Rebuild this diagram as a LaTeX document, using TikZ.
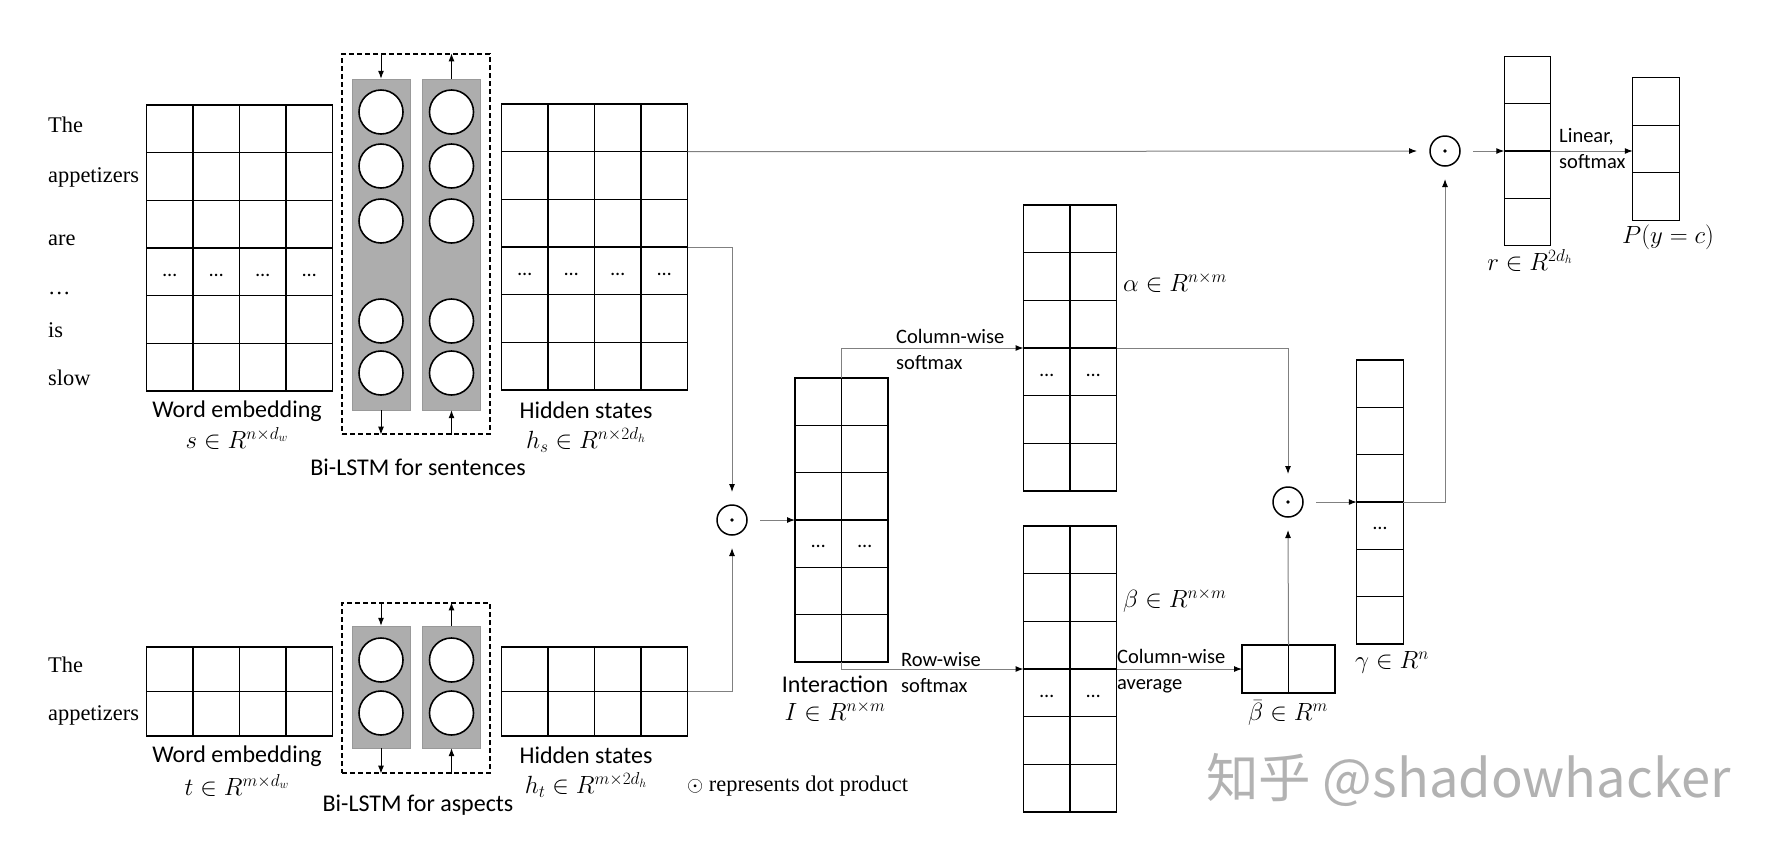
\documentclass[tikz,border=0pt]{standalone}
\usepackage{amsmath}
\usepackage{fontspec}
\setmainfont{Liberation Serif}
\newfontfamily\lblfont{Carlito}
\newfontfamily\wmfont{Noto Sans CJK SC}
\usepackage{tikz}
\usetikzlibrary{arrows.meta}

\tikzset{
  matbox/.style={draw, line width=1.3pt, inner sep=0pt, outer sep=0pt},
  matline/.style={line width=1.3pt},
  celldots/.style={font=\lblfont\fontsize{20}{20}\selectfont, inner sep=0pt},
  conn/.style={draw=black!50, line width=1pt, -{Latex[length=8pt,width=6pt,color=black]}},
  arr/.style={line width=1pt, -{Latex[length=8pt,width=6pt]}},
  odot/.style={circle, draw, line width=1.5pt, minimum size=30pt, inner sep=0pt, outer sep=13pt,
    path picture={\fill (path picture bounding box.center) circle (1.8pt);}},
  lstm/.style={draw=black!40, fill=black!32, inner sep=0pt, minimum width=58pt, minimum height=#1},
  lstmunit/.style={circle, draw, fill=white, line width=1.6pt, minimum size=44pt, inner sep=0pt},
  bilstm/.style={draw, dash pattern=on 5pt off 3pt, line width=1.2pt, minimum width=148pt, minimum height=#1, inner sep=0pt},
  lbl/.style={font=\lblfont\fontsize{24}{28}\selectfont, inner sep=0pt},
  note/.style={font=\lblfont\fontsize{20.5}{26}\selectfont, align=left, inner sep=0pt, anchor=west},
  word/.style={font=\fontsize{22.4}{26}\selectfont, anchor=west, inner sep=0pt},
}

% a box of cells: name, centre, columns, rows, row height
\newcommand{\cellgrid}[5]{%
  \node[matbox, minimum width=#3*46.5pt, minimum height=#4*#5pt] (#1) at #2 {};
  \foreach \i in {1,...,#3} \draw[matline] ([xshift=\i*46.5pt]#1.north west) -- ([xshift=\i*46.5pt]#1.south west);
  \foreach \j in {1,...,#4} \draw[matline] ([yshift=-\j*#5pt]#1.north west) -- ([yshift=-\j*#5pt]#1.north east);
}

\begin{document}
\begin{tikzpicture}[x=1pt, y=-1pt]
    \useasboundingbox (0,0) rectangle (1774,852);

    % Sentence words
    \node[word] (s1) at (48,125) {The};
    \node[word] (s2) at (48,177) {appetizers};
    \node[word] (s3) at (48,240) {are};
    \node[word] (s4) at (48,293) {\ldots};
    \node[word] (s5) at (48,330) {is};
    \node[word] (s6) at (48,378) {slow};

    % Word embedding (sentence)
    \cellgrid{we}{(239.5,248)}{4}{6}{47.67}
    \foreach \c in {1,...,4}
        \node[celldots] (we-d\c) at ([xshift=(\c-0.5)*46.5pt, yshift=-170pt]we.north west) {\ldots};
    \node[lbl] (we-l) at (237,411) {Word embedding};
    \node[lbl] (we-m) at (237,438) {$s\in R^{n\times d_w}$};

    % Bi-LSTM for sentences
    \node[bilstm=380pt] (bls) at (416,244) {};
    \node[lstm=331pt] (fws) at (381,244.5) {};
    \node[lstm=331pt] (bws) at (451.5,244.5) {};
    \foreach \y [count=\k] in {112,166,221,321,373} {
        \node[lstmunit] (fs\k) at (381,\y) {};
        \node[lstmunit] (bs\k) at (451.5,\y) {};
    }
    \draw[arr] (fws.north |- bls.north) -- (fws.north);
    \draw[arr] (bws.north) -- (bws.north |- bls.north);
    \draw[arr] (fws.south) -- (fws.south |- bls.south);
    \draw[arr] (bws.south |- bls.south) -- (bws.south);
    \node[lbl] (bls-l) at (418,467) {Bi-LSTM for sentences};

    % Hidden states (sentence)
    \cellgrid{hs}{(594.5,247)}{4}{6}{47.67}
    \foreach \c in {1,...,4}
        \node[celldots] (hs-d\c) at ([xshift=(\c-0.5)*46.5pt, yshift=-170pt]hs.north west) {\ldots};
    \node[lbl] (hs-l) at (586,410) {Hidden states};
    \node[lbl] (hs-m) at (586,440) {$h_s\in R^{n\times 2d_h}$};

    % Aspect words
    \node[word] (a1) at (48,665) {The};
    \node[word] (a2) at (48,715) {appetizers};

    % Word embedding (aspect)
    \cellgrid{wa}{(239.5,691.5)}{4}{2}{44.5}
    \node[lbl] (wa-l) at (237,756) {Word embedding};
    \node[lbl] (wa-m) at (237,785) {$t\in R^{m\times d_w}$};

    % Bi-LSTM for aspects
    \node[bilstm=170pt] (bla) at (416,688) {};
    \node[lstm=122pt] (fwa) at (381,687) {};
    \node[lstm=122pt] (bwa) at (451.5,687) {};
    \foreach \y [count=\k] in {660,713} {
        \node[lstmunit] (fa\k) at (381,\y) {};
        \node[lstmunit] (ba\k) at (451.5,\y) {};
    }
    \draw[arr] (fwa.north |- bla.north) -- (fwa.north);
    \draw[arr] (bwa.north) -- (bwa.north |- bla.north);
    \draw[arr] (fwa.south) -- (fwa.south |- bla.south);
    \draw[arr] (bwa.south |- bla.south) -- (bwa.south);
    \node[lbl] (bla-l) at (418,805) {Bi-LSTM for aspects};

    % Hidden states (aspect)
    \cellgrid{ha}{(594.5,691.5)}{4}{2}{44.5}
    \node[lbl] (ha-l) at (586,755) {Hidden states};
    \node[lbl] (ha-m) at (586,785) {$h_t\in R^{m\times 2d_h}$};

    % Dot products
    \node[odot] (dot1) at (1445,151) {};
    \node[odot] (dot2) at (732,520) {};
    \node[odot] (dot3) at (1288,502) {};

    % Interaction
    \cellgrid{inter}{(841.5,520)}{2}{6}{47.33}
    \foreach \c in {1,2}
        \node[celldots] (inter-d\c) at ([xshift=(\c-0.5)*46.5pt, yshift=-168pt]inter.north west) {\ldots};
    \node[lbl] (inter-l) at (835,684) {Interaction};
    \node[lbl] (inter-m) at (835,711) {$I\in R^{n\times m}$};

    % alpha and beta
    \cellgrid{alpha}{(1070,348)}{2}{6}{47.67}
    \cellgrid{beta}{(1070,669)}{2}{6}{47.67}
    \foreach \c in {1,2} {
        \node[celldots] (alpha-d\c) at ([xshift=(\c-0.5)*46.5pt, yshift=-170pt]alpha.north west) {\ldots};
        \node[celldots] (beta-d\c) at ([xshift=(\c-0.5)*46.5pt, yshift=-170pt]beta.north west) {\ldots};
    }
    \node[lbl, anchor=west] (alpha-m) at (1123,282) {$\alpha\in R^{n\times m}$};
    \node[lbl, anchor=west] (beta-m) at (1123,600) {$\beta\in R^{n\times m}$};

    % beta bar, gamma
    \cellgrid{bbar}{(1288.5,669)}{2}{1}{48}
    \node[lbl] (bbar-m) at (1288,713) {$\bar{\beta}\in R^{m}$};
    \cellgrid{gam}{(1380,502)}{1}{6}{47.33}
    \node[celldots] (gam-d) at ([xshift=23.25pt, yshift=-168pt]gam.north west) {\ldots};
    \node[lbl] (gam-m) at (1392,662) {$\gamma\in R^{n}$};

    % r and output
    \cellgrid{rvec}{(1527.5,151)}{1}{4}{47.25}
    \node[lbl] (rvec-m) at (1530,260) {$r\in R^{2d_h}$};
    \cellgrid{prob}{(1656,149)}{1}{3}{47.67}
    \node[lbl] (prob-m) at (1668,237) {$P(y=c)$};

    % Operation notes
    \node[note] (cws) at (896,349) {Column-wise\\softmax};
    \node[note] (rws) at (901,673) {Row-wise\\softmax};
    \node[note] (cwa) at (1117,671.5) {Column-wise\\average};
    \node[note] (lin) at (1559,149) {Linear,\\softmax};

    % Connectors
    \draw[conn] ([yshift=-47.67pt]hs.north east) -- (dot1.west);
    \draw[conn] (hs.east) -| (dot2.north);
    \draw[conn] (ha.east) -| (dot2.south);
    \draw[conn] (dot2.east) -- (inter.west);
    \draw[conn] (inter.north) |- (alpha.west);
    \draw[conn] (inter.south) |- (beta.west);
    \draw[conn] (alpha.east) -| (dot3.north);
    \draw[conn] (beta.east) -- (bbar.west);
    \draw[conn] (bbar.north) -- (dot3.south);
    \draw[conn] (dot3.east) -- (gam.west);
    \draw[conn] (gam.east) -| (dot1.south);
    \draw[conn] (dot1.east) -- (rvec.west);
    \draw[conn] (rvec.east) -- (rvec.east -| prob.west);

    % Legend and mark
    \node[word] (legend) at (687,786) {$\odot$ represents dot product};
    \node[anchor=west, inner sep=0pt, text=black!30, font=\wmfont\fontsize{52.5}{52.5}\selectfont] (wm) at (1206,780) {知乎 @shadowhacker};
\end{tikzpicture}
\end{document}
